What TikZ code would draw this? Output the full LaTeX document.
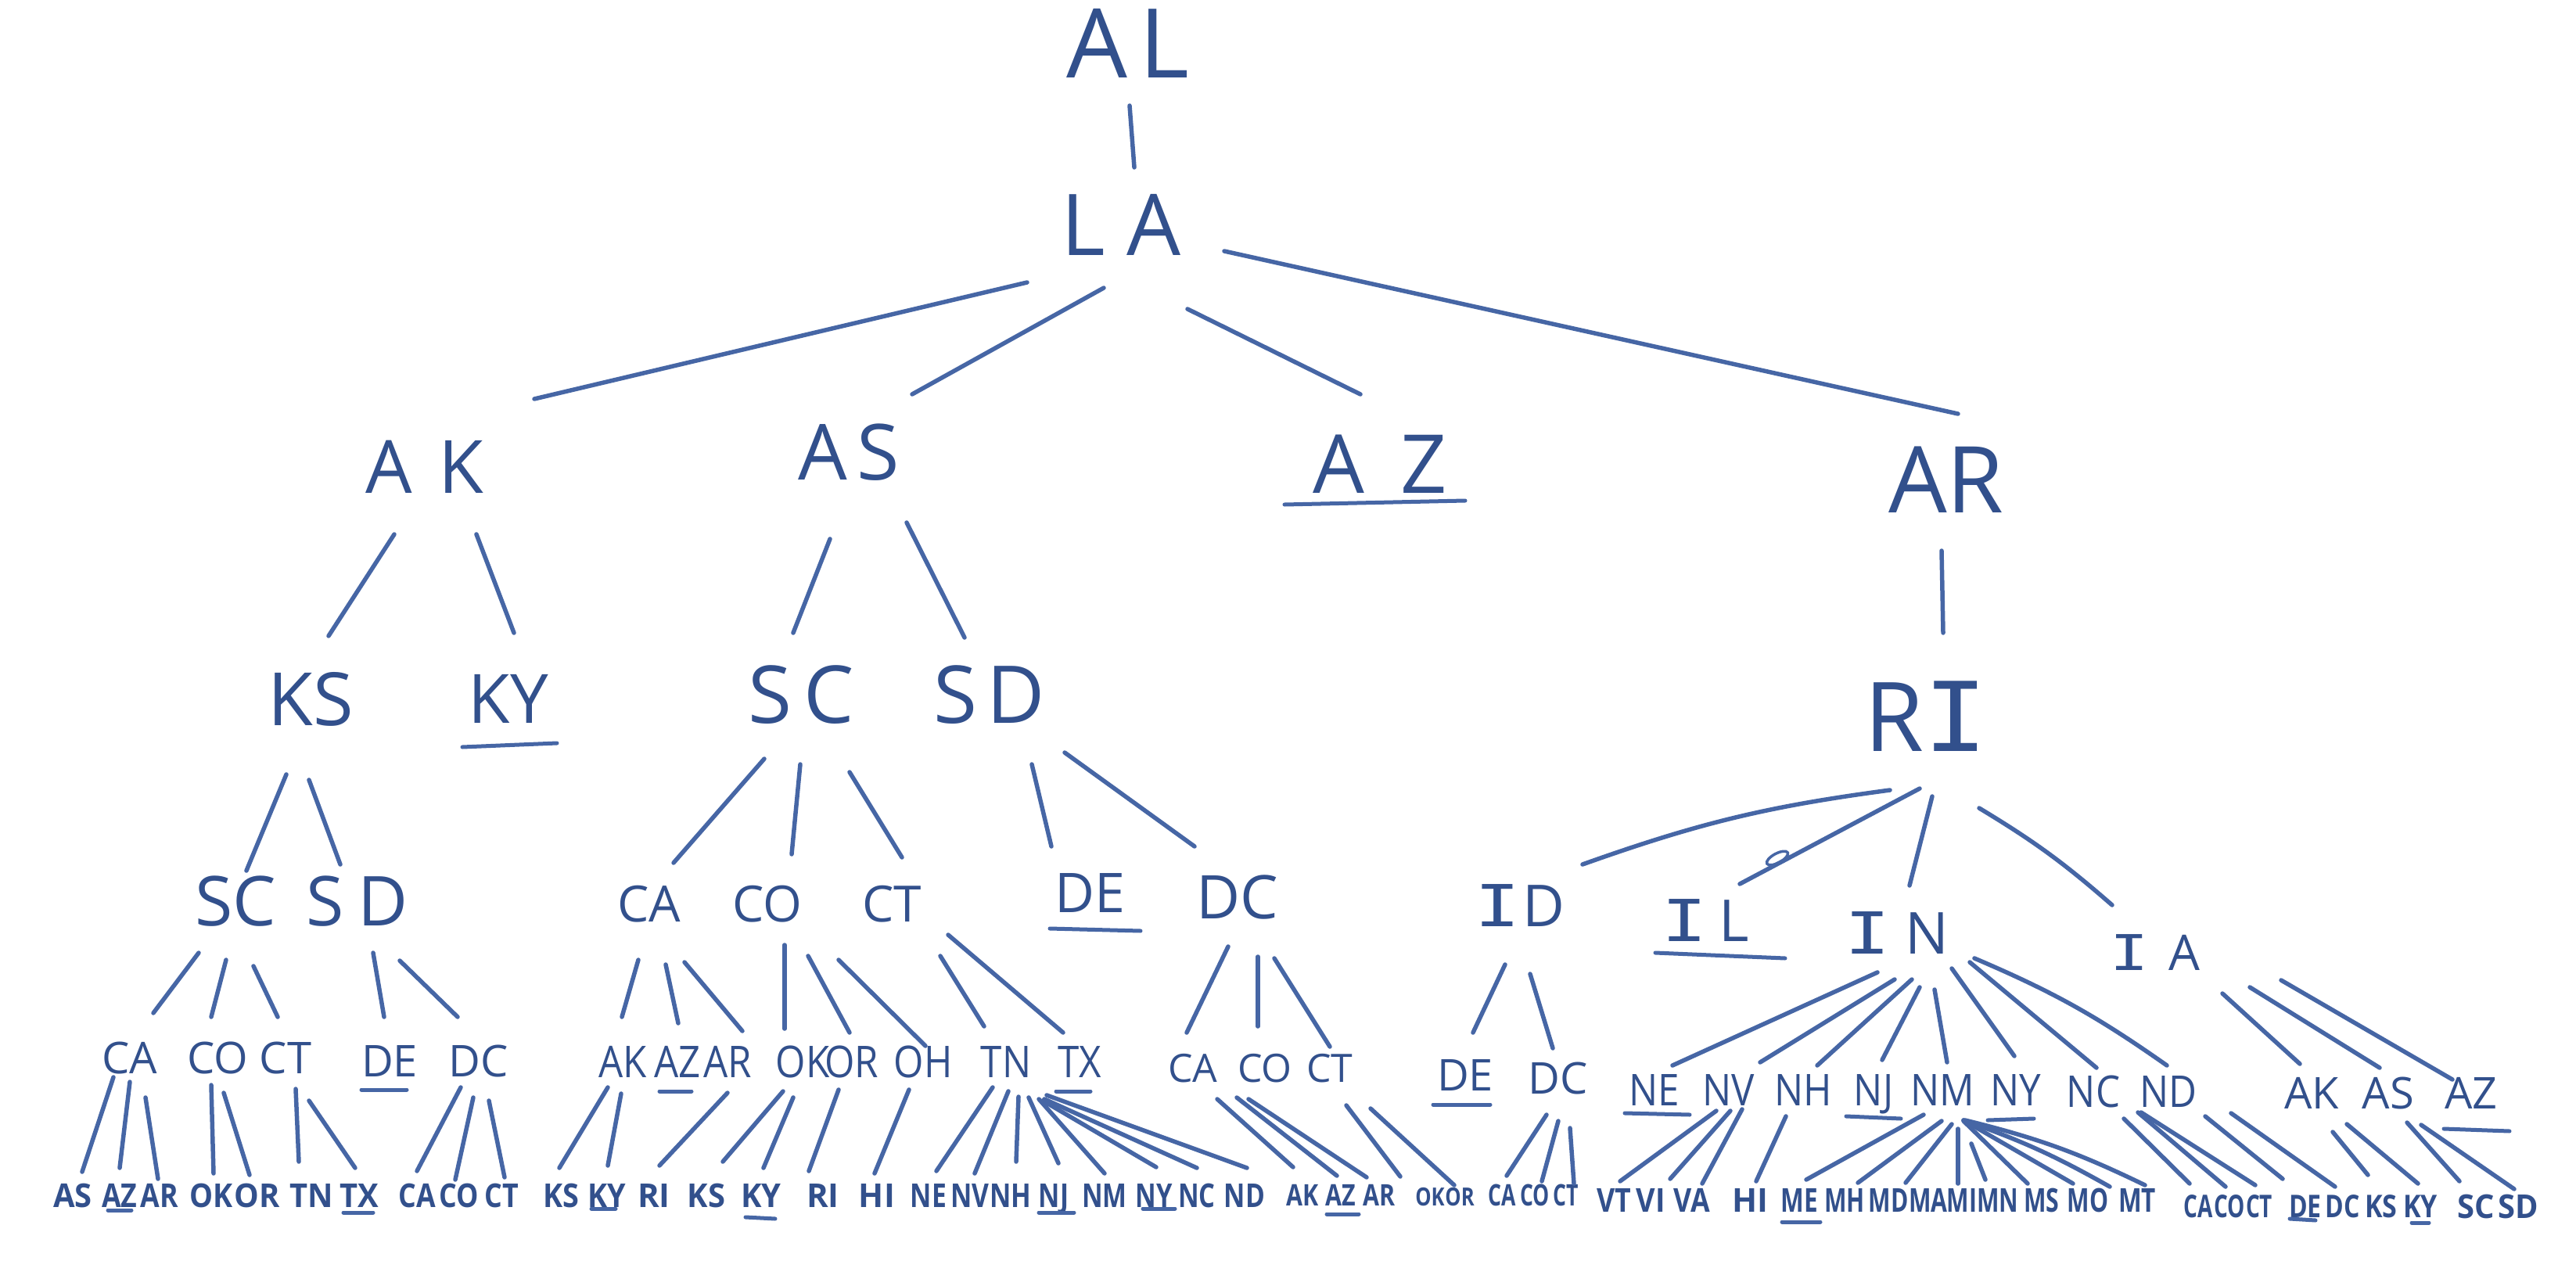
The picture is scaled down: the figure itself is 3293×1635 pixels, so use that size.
\documentclass[tikz,border=0pt]{standalone}
\usepackage{fontspec}
\setmainfont{Open Sans}
\newfontfamily\monofam{DejaVu Sans Mono}
\usepackage{graphicx}
\usetikzlibrary{calc}
\definecolor{inktext}{RGB}{50,80,140}
\definecolor{inkline}{RGB}{70,102,165}
\newcommand\lnk[4]{\draw[link] ([shift={(#2)}]#1.center) -- ([shift={(#4)}]#3.center);}
\newcommand\uln[3]{\draw[uline] ([shift={(#2)}]#1.center) -- ([shift={(#3)}]#1.center);}
\newcommand\sqb[1]{\scalebox{0.88}[1]{#1}}
\newcommand\gap[1]{\hspace{#1em}}
\newcommand\barI[1]{{\monofam\scalebox{#1}[1]{I}}}
\begin{document}
\begin{tikzpicture}[x=1pt,y=-1pt,
  lab/.style={inner sep=0pt, text depth=0pt, text=inktext, font=\fontsize{#1pt}{#1pt}\selectfont},
  link/.style={draw=inkline, line width=5.5pt, line cap=round},
  uline/.style={draw=inkline, line width=5pt, line cap=round},
  bot/.style={inner sep=0pt, text depth=0pt, text=inktext, font=\fontsize{#1pt}{#1pt}\selectfont\bfseries}]
\useasboundingbox[fill=white] (0,0) rectangle (3293,1635);
% level 0-1
\node[lab=123] (AL) at (1442,55) {A\gap{0.12}L};
\node[lab=109] (LA) at (1433,287) {L\gap{0.25}A};
% level 2
\node[lab=94] (AK2) at (543,597) {A\gap{0.35}K};
\node[lab=99] (AS2) at (1085,578) {A\gap{0.12}S};
\node[lab=104] (AZ2) at (1764,593) {A\gap{0.45}Z};
\node[lab=118] (AR2) at (2488,613) {AR};
% level 3
\node[lab=94] (KS3) at (397,893) {KS};
\node[lab=87] (KY3) at (650,893) {KY};
\node[lab=102] (SC3) at (1024,888) {S\gap{0.15}C};
\node[lab=102] (SD3) at (1265,888) {S\gap{0.12}D};
\node[lab=123] (RI3) at (2462,916) {R\barI{1.1}};
% level 4
\node[lab=88] (SCa) at (301,1152) {SC};
\node[lab=88] (SDa) at (457,1152) {S\gap{0.2}D};
\node[lab=64] (CAb) at (830,1155) {CA};
\node[lab=64] (COb) at (981,1155) {CO};
\node[lab=64] (CTb) at (1140,1155) {CT};
\node[lab=70] (DEb) at (1393,1142) {DE};
\node[lab=77] (DCb) at (1582,1147) {DC};
\node[lab=74] (ID4) at (1943,1158) {\barI{1.3}\gap{0.05}D};
\node[lab=74] (IL4) at (2180,1177) {\barI{1.3}\gap{0.2}L};
\node[lab=74] (IN4) at (2425,1193) {\barI{1.3}\gap{0.25}N};
\node[lab=63] (IA4) at (2755,1218) {\barI{1.3}\gap{0.4}A};
% level 5
\node[lab=56] (CAc) at (166,1352) {CA};
\node[lab=56] (COc) at (278,1352) {CO};
\node[lab=56] (CTc) at (365,1352) {CT};
\node[lab=56] (DEc) at (498,1356) {DE};
\node[lab=56] (DCc) at (612,1356) {DC};
\node[lab=56] (AKd) at (796,1357) {\sqb{AK}};
\node[lab=56] (AZd) at (866,1357) {\sqb{AZ}};
\node[lab=56] (ARd) at (930,1357) {\sqb{AR}};
\node[lab=56] (OKd) at (1026,1357) {\sqb{OK}};
\node[lab=56] (ORd) at (1089,1357) {\sqb{OR}};
\node[lab=56] (OHd) at (1180,1357) {\sqb{OH}};
\node[lab=56] (TNd) at (1286,1357) {\sqb{TN}};
\node[lab=56] (TXd) at (1380,1357) {\sqb{TX}};
\node[lab=50] (CAe) at (1525,1365) {CA};
\node[lab=50] (COe) at (1617,1365) {CO};
\node[lab=50] (CTe) at (1700,1365) {CT};
\node[lab=56] (DEf) at (1873,1374) {DE};
\node[lab=56] (DCf) at (1992,1378) {DC};
\node[lab=56] (NEg) at (2115,1393) {\sqb{NE}};
\node[lab=56] (NVg) at (2210,1393) {\sqb{NV}};
\node[lab=56] (NHg) at (2305,1393) {\sqb{NH}};
\node[lab=56] (NJg) at (2395,1393) {\sqb{NJ}};
\node[lab=56] (NMg) at (2483,1393) {\sqb{NM}};
\node[lab=56] (NYg) at (2577,1393) {\sqb{NY}};
\node[lab=56] (NCg) at (2676,1395) {\sqb{NC}};
\node[lab=56] (NDg) at (2772,1395) {\sqb{ND}};
\node[lab=56] (AKh) at (2955,1397) {AK};
\node[lab=56] (ASh) at (3053,1397) {AS};
\node[lab=56] (AZh) at (3159,1397) {AZ};
% level 6
\foreach \n/\x/\y/\t/\f/\s in {b1/93/1528/AS/0.95/42, b2/153/1528/AZ/0.85/42, b3/204/1528/AR/0.85/42,
  b4/270/1528/OK/0.9/42, b5/329/1528/OR/0.95/42,
  b6/398/1528/TN/0.95/42, b7/459/1528/TX/0.95/42, b8/533/1528/CA/0.85/42, b9/587/1528/CO/0.85/42, b10/641/1528/CT/0.85/42,
  b11/717/1528/KS/0.9/42, b12/776/1528/KY/0.9/42, b13/836/1528/RI/1/42, b14/903/1528/KS/0.95/42, b15/973/1528/KY/0.95/42,
  b16/1052/1528/RI/1/42, b17/1121/1528/HI/1/42, b18/1187/1528/NE/0.8/42, b19/1240/1528/NV/0.8/42, b20/1292/1528/NH/0.8/42,
  b21/1347/1528/NJ/0.8/42, b22/1412/1528/NM/0.78/42, b23/1475/1528/NY/0.78/42, b24/1530/1528/NC/0.78/42, b25/1591/1528/ND/0.8/42,
  b26/1665/1528/AK/0.8/38, b27/1714/1528/AZ/0.8/38, b28/1763/1528/AR/0.8/38, b29/1828/1530/OK/0.8/32, b30/1866/1530/OR/0.8/32,
  b31/1920/1528/CA/0.7/38, b32/1962/1528/CO/0.7/38, b33/2002/1528/CT/0.7/38,
  b34/2063/1534/VT/0.85/42, b35/2110/1534/VI/0.9/42, b36/2163/1534/VA/0.85/42, b37/2237/1534/HI/1/42,
  b38/2300/1534/ME/0.75/42, b39/2358/1534/MH/0.72/42, b40/2414/1534/MD/0.72/42, b41/2465/1534/MA/0.72/42, b42/2508/1534/MI/0.72/42,
  b43/2554/1534/MN/0.72/42, b44/2610/1534/MS/0.72/42, b45/2669/1534/MO/0.72/42, b46/2732/1534/MT/0.75/42,
  b47/2810/1542/CA/0.7/40, b48/2850/1542/CO/0.7/40, b49/2888/1542/CT/0.7/40, b50/2947/1542/DE/0.8/40, b51/2995/1542/DC/0.8/40,
  b52/3044/1542/KS/0.85/40, b53/3094/1542/KY/0.85/40, b54/3165/1542/SC/0.95/42, b55/3219/1542/SD/0.95/42}
  \node[bot=\s] (\n) at (\x,\y) {\scalebox{\f}[1]{\t}};
% links level 0-3
\lnk{AL}{2,80}{LA}{17,-73}
\lnk{LA}{-120,74}{AK2}{140,-87}
\lnk{LA}{-22,81}{AS2}{81,-74}
\lnk{LA}{85,108}{AZ2}{-25,-89}
\lnk{LA}{132,34}{AR2}{15,-84}
\lnk{AK2}{-39,86}{KS3}{23,-80}
\lnk{AK2}{66,86}{KY3}{7,-84}
\lnk{AS2}{-24,111}{SC3}{-10,-79}
\lnk{AS2}{74,90}{SD3}{-32,-73}
\lnk{AR2}{-6,91}{RI3}{22,-107}
% level 3-4
\lnk{KS3}{-31,97}{SCa}{14,-39}
\lnk{KS3}{-2,104}{SDa}{-22,-47}
\lnk{SC3}{-47,82}{CAb}{31,-52}
\lnk{SC3}{-1,89}{COb}{31,-63}
\lnk{SC3}{62,99}{CTb}{13,-59}
\lnk{SD3}{54,89}{DEb}{-49,-60}
\lnk{SD3}{96,74}{DCb}{-55,-65}
\draw[link] ([shift={(-46,94)}]RI3.center) to[bend right=6] ([shift={(80,-53)}]ID4.center);
\lnk{RI3}{-8,92}{IL4}{44,-47}
\lnk{RI3}{8,102}{IN4}{16,-61}
\draw[link] ([shift={(68,117)}]RI3.center) to[bend left=5] ([shift={(-55,-61)}]IA4.center);
\draw[draw=inkline, line width=3.5pt] ([shift={(92,-80)}]IL4.center) ellipse [x radius=15, y radius=6, rotate=28];
% level 4-5
\lnk{SCa}{-47,66}{CAc}{30,-57}
\lnk{SCa}{-12,75}{COc}{-8,-52}
\lnk{SCa}{23,83}{CTc}{-10,-52}
\lnk{SDa}{20,66}{DEc}{-7,-56}
\lnk{SDa}{54,76}{DCc}{-27,-56}
\lnk{CAb}{-14,72}{AKd}{-1,-57}
\lnk{CAb}{21,78}{AZd}{1,-49}
\lnk{CAb}{45,75}{ARd}{19,-39}
\lnk{COb}{22,53}{OKd}{-23,-42}
\lnk{COb}{52,67}{ORd}{-3,-37}
\lnk{COb}{91,72}{OHd}{3,-20}
\lnk{CTb}{62,67}{TNd}{-28,-45}
\lnk{CTb}{72,40}{TXd}{-21,-37}
\lnk{DCb}{-12,63}{CAe}{-8,-45}
\lnk{DCb}{26,76}{COe}{-9,-53}
\lnk{DCb}{47,78}{CTe}{0,-27}
\lnk{ID4}{-19,75}{DEf}{10,-54}
\lnk{ID4}{13,87}{DCf}{-7,-38}
\lnk{IN4}{-25,50}{NEg}{23,-31}
\lnk{IN4}{-3,59}{NVg}{40,-35}
\lnk{IN4}{19,59}{NHg}{18,-31}
\lnk{IN4}{29,69}{NJg}{11,-38}
\lnk{IN4}{48,72}{NMg}{6,-35}
\lnk{IN4}{70,45}{NYg}{-2,-43}
\lnk{IN4}{93,37}{NCg}{4,-30}
\draw[link] ([shift={(99,32)}]IN4.center) to[bend left=6] ([shift={(-2,-33)}]NDg.center);
\lnk{IA4}{86,52}{AKh}{-15,-37}
\lnk{IA4}{121,44}{ASh}{-11,-32}
\lnk{IA4}{161,35}{AZh}{-24,-17}
% level 5-6
\lnk{CAc}{-21,25}{b1}{12,-30}
\lnk{CAc}{0,31}{b2}{0,-35}
\lnk{CAc}{20,51}{b3}{-2,-21}
\lnk{COc}{-8,35}{b4}{3,-28}
\lnk{COc}{8,45}{b5}{-10,-26}
\lnk{CTc}{13,40}{b6}{-16,-43}
\lnk{CTc}{30,55}{b7}{-5,-35}
\lnk{DCc}{-23,34}{b8}{0,-31}
\lnk{DCc}{-7,47}{b9}{-5,-20}
\lnk{DCc}{13,51}{b10}{4,-23}
\lnk{AKd}{-19,33}{b11}{-2,-35}
\lnk{AKd}{-2,41}{b12}{1,-38}
\lnk{ARd}{0,40}{b13}{7,-38}
\lnk{OKd}{-25,38}{b14}{21,-43}
\lnk{OKd}{-12,46}{b15}{3,-35}
\lnk{ORd}{-17,36}{b16}{-18,-31}
\lnk{OHd}{-18,36}{b17}{-3,-28}
\lnk{TNd}{-17,33}{b18}{10,-31}
\lnk{TNd}{3,38}{b19}{6,-28}
\lnk{TNd}{16,45}{b20}{7,-43}
\lnk{TNd}{29,46}{b21}{6,-41}
\lnk{TNd}{42,48}{b22}{0,-28}
\lnk{TNd}{47,50}{b23}{3,-36}
\lnk{TNd}{49,48}{b24}{0,-35}
\lnk{TNd}{52,43}{b25}{3,-35}
\lnk{CAe}{31,40}{b26}{-12,-36}
\lnk{COe}{-36,38}{b27}{-5,-25}
\lnk{COe}{-21,40}{b28}{-16,-23}
\lnk{CTe}{21,48}{b29}{-38,-26}
\lnk{CTe}{52,52}{b30}{-7,-15}
\lnk{DCf}{-15,47}{b31}{6,-25}
\lnk{DCf}{0,55}{b32}{9,-18}
\lnk{DCf}{15,64}{b33}{10,-15}
\lnk{NVg}{-16,27}{b34}{8,-24}
\lnk{NVg}{2,27}{b35}{25,-27}
\lnk{NVg}{17,25}{b36}{13,-21}
\lnk{NHg}{-22,34}{b37}{8,-24}
\lnk{NMg}{-24,32}{b38}{9,-26}
\lnk{NMg}{-1,40}{b39}{17,-22}
\lnk{NMg}{12,44}{b40}{22,-22}
\lnk{NMg}{20,50}{b41}{38,-21}
\lnk{NMg}{37,69}{b42}{30,-26}
\lnk{NMg}{27,40}{b43}{38,-21}
\lnk{NMg}{27,39}{b44}{40,-21}
\draw[link] ([shift={(27,39)}]NMg.center) to[bend left=5] ([shift={(28,-17)}]b45.center);
\draw[link] ([shift={(29,39)}]NMg.center) to[bend left=6] ([shift={(10,-19)}]b46.center);
\lnk{NCg}{39,35}{b47}{-11,-29}
\lnk{NCg}{57,27}{b48}{-5,-25}
\lnk{NCg}{61,27}{b49}{-5,-27}
\lnk{NDg}{47,32}{b50}{-29,-35}
\lnk{NDg}{80,28}{b51}{-10,-25}
\lnk{AKh}{27,50}{b52}{-17,-40}
\lnk{AKh}{45,40}{b53}{-3,-29}
\lnk{ASh}{24,38}{b54}{-21,-32}
\lnk{ASh}{42,41}{b55}{-5,-22}
% underlines
\uln{AZ2}{-122,52}{109,47}
\uln{KY3}{-59,62}{62,57}
\uln{DEb}{-51,45}{65,48}
\uln{IL4}{-64,41}{102,48}
\uln{DEc}{-36,37}{22,37}
\uln{AZd}{-23,38}{18,38}
\uln{TXd}{-30,38}{14,38}
\uln{DEf}{-41,38}{32,38}
\uln{NEg}{-38,30}{45,32}
\uln{NJg}{-35,34}{35,37}
\uln{NYg}{-36,39}{23,37}
\uln{AZh}{-35,46}{49,49}
\uln{b2}{-15,19}{15,19}
\uln{b7}{-20,22}{18,22}
\uln{b12}{-20,17}{11,17}
\uln{b15}{-20,28}{18,30}
\uln{b21}{-19,22}{26,22}
\uln{b23}{-14,17}{27,17}
\uln{b27}{-18,24}{23,24}
\uln{b38}{-22,28}{27,28}
\uln{b50}{-20,16}{13,18}
\uln{b53}{-11,21}{11,21}
\end{tikzpicture}
\end{document}
